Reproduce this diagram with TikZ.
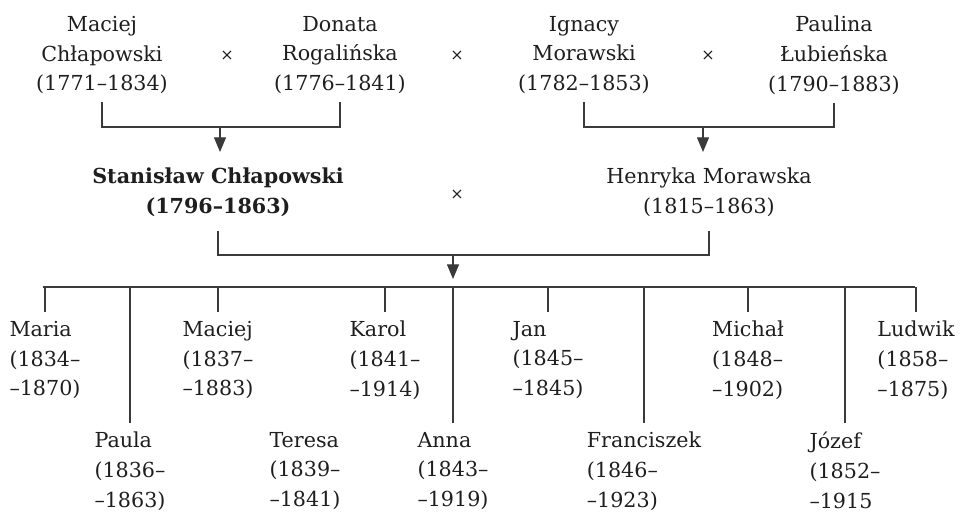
\documentclass[tikz,border=0pt]{standalone}
\usepackage{fontspec}
\setmainfont{DejaVu Serif}
\usetikzlibrary{arrows.meta}
\definecolor{txt}{HTML}{1E1E1E}
\definecolor{ln}{HTML}{3A3A3A}
\begin{document}
\begin{tikzpicture}[x=0.75pt,y=-0.75pt,
  every node/.style={text=txt, font=\fontsize{15.5}{22.2}\selectfont},
  parent/.style={align=center, inner xsep=0pt, inner ysep=6pt, anchor=north},
  child/.style={align=left, inner sep=0pt, anchor=north},
  marr/.style={font=\fontsize{12}{14}\selectfont, inner sep=0pt},
  conn/.style={draw=ln, line width=0.9pt},
  arr/.style={conn, -{Triangle[width=9pt,length=11pt]}}]
\useasboundingbox (0,0) rectangle (960,511);
% grandparents
\node[parent] (mc) at (102,8) {Maciej\\Chłapowski\\(1771–1834)};
\node[parent] (dr) at (340,8) {Donata\\Rogalińska\\(1776–1841)};
\node[parent] (im) at (584,8) {Ignacy\\Morawski\\(1782–1853)};
\node[parent] (pl) at (834,8) {Paulina\\Łubieńska\\(1790–1883)};
\node[marr] (x1) at (227,56) {×};
\node[marr] (x2) at (457,56) {×};
\node[marr] (x3) at (708,56) {×};
% parents
\node[parent] (sc) at (218,160) {\bfseries Stanisław Chłapowski\\\bfseries (1796–1863)};
\node[parent] (hm) at (709,160) {Henryka Morawska\\(1815–1863)};
\node[marr] (x4) at (457,195) {×};
% connectors to parents
\coordinate (j1) at (220,127);
\coordinate (j2) at (703,127);
\draw[conn] (mc.south) |- (j1) -| (dr.south);
\draw[conn] (im.south) |- (j2) -| (pl.south);
\draw[arr, shorten >=6pt] (j1) -- (j1 |- sc.north);
\draw[arr, shorten >=6pt] (j2) -- (j2 |- hm.north);
% connector to children
\coordinate (j3) at (453,255);
\draw[conn, shorten <=4.5pt] (sc.south) |- (j3);
\draw[conn, shorten >=4.5pt] (j3) -| (hm.south);
\coordinate (busL) at (43,287);
\coordinate (busR) at (915,287);
\draw[conn] (busL) -- (busR);
\draw[arr, shorten >=6pt] (j3) -- (j3 |- busL);
% children, upper row
\node[child] (c1) at (45,321) {Maria\\(1834–\\–1870)};
\node[child] (c3) at (218,321) {Maciej\\(1837–\\–1883)};
\node[child] (c5) at (385,321) {Karol\\(1841–\\–1914)};
\node[child] (c7) at (548,321) {Jan\\(1845–\\–1845)};
\node[child] (c9) at (748,321) {Michał\\(1848–\\–1902)};
\node[child] (c11) at (916,321) {Ludwik\\(1858–\\–1875)};
% children, lower row
\node[child] (c2) at (130,432) {Paula\\(1836–\\–1863)};
\node[child] (c4) at (305,432) {Teresa\\(1839–\\–1841)};
\node[child] (c6) at (453,432) {Anna\\(1843–\\–1919)};
\node[child] (c8) at (644,432) {Franciszek\\(1846–\\–1923)};
\node[child] (c10) at (845,432) {Józef\\(1852–\\–1915};
% drops
\foreach \c in {c1,c2,c3,c5,c6,c7,c8,c9,c10,c11}
  \draw[conn, shorten >=7pt] (\c.north |- busL) -- (\c.north);
\end{tikzpicture}
\end{document}
